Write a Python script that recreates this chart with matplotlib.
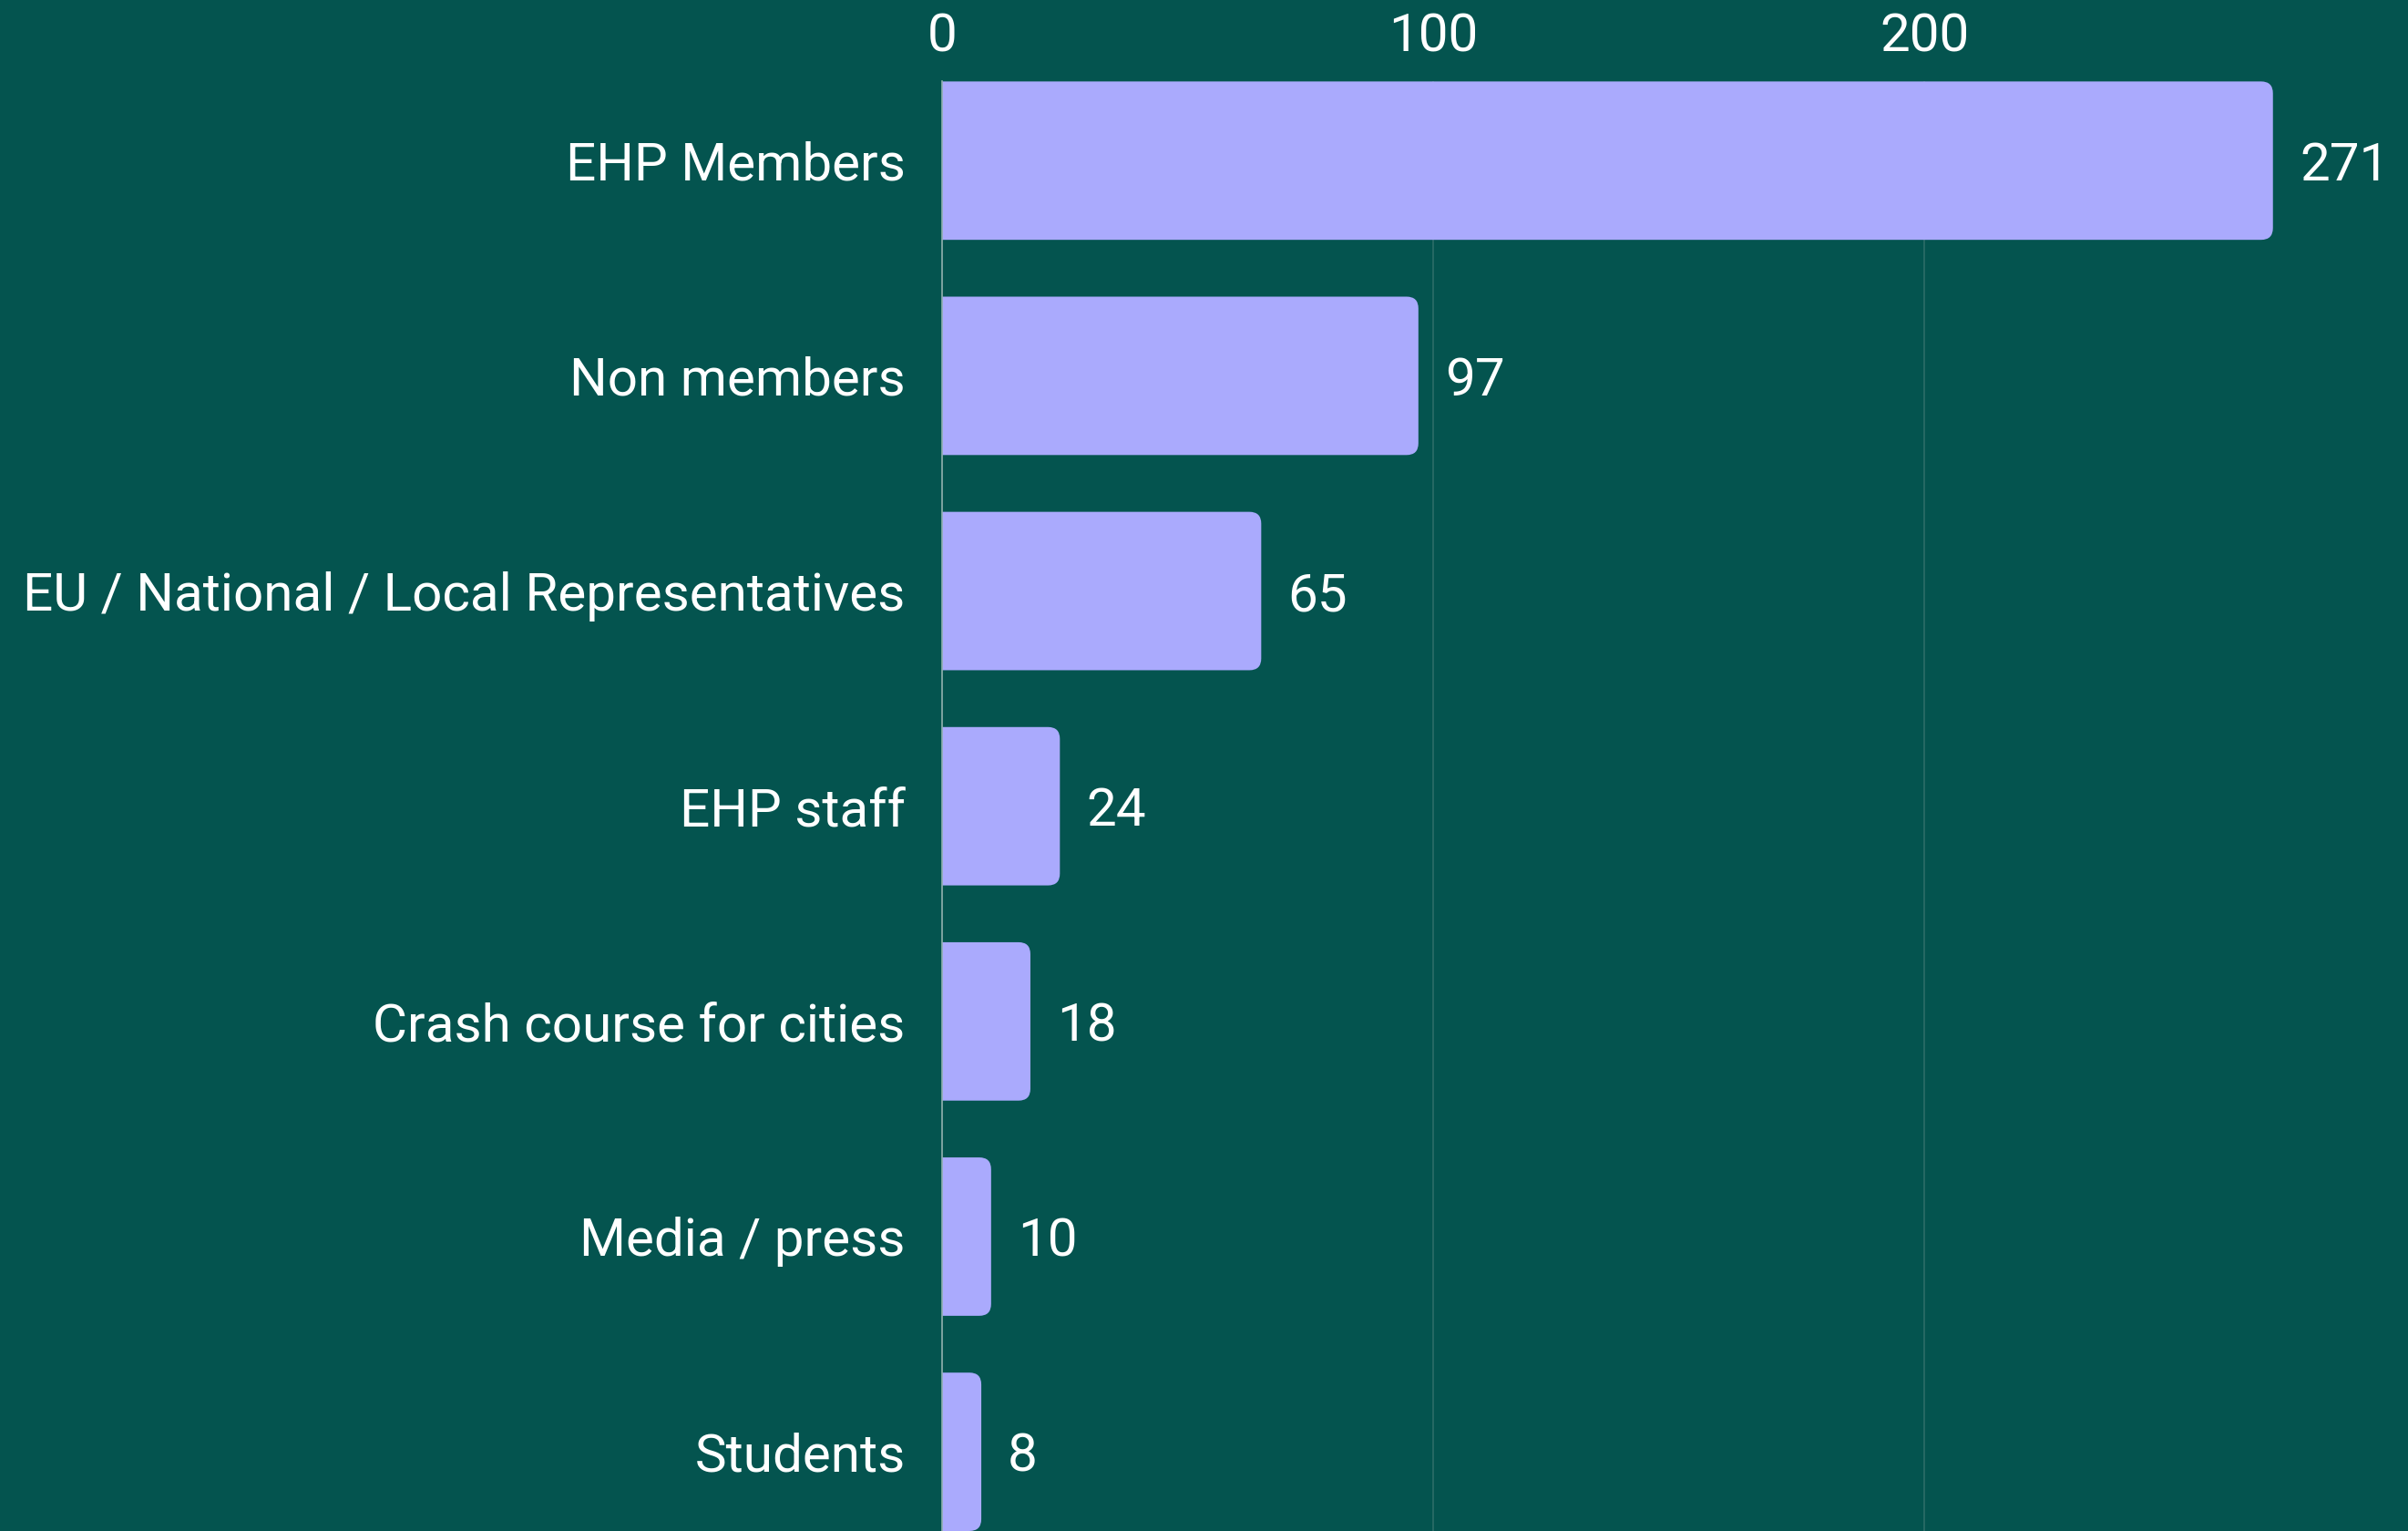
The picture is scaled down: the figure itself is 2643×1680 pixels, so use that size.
import matplotlib.pyplot as plt
from matplotlib.patches import FancyBboxPatch

# Datos
categorias = ['EHP Members', 'Non members', 'EU / National / Local Representatives',
              'EHP staff', 'Crash course for cities', 'Media / press', 'Students']
valores = [271, 97, 65, 24, 18, 10, 8]
ticks_x = [0, 100, 200]

fondo = '#04544f'
color_barra = '#aaaafd'
plt.rcParams['font.family'] = ['Roboto', 'DejaVu Sans']

fig = plt.figure(figsize=(26.43, 16.8), dpi=100, facecolor=fondo)
ax = fig.add_axes([0.3912, 0.0, 0.6088, 0.9468])
ax.set_facecolor(fondo)

pos = list(range(len(categorias)))
alto = 0.736
barras = ax.barh(pos, valores, height=alto, color=color_barra)

ax.set_xlim(0, 298.5)
ax.set_ylim(len(categorias) - 1 + alto / 2, -alto / 2)

# Esquinas redondeadas a la derecha
fig.canvas.draw()
px_x = ax.transData.transform((1, 0))[0] - ax.transData.transform((0, 0))[0]
px_y = abs(ax.transData.transform((0, 1))[1] - ax.transData.transform((0, 0))[1])
r = 13 / px_x
for b in barras:
    b.set_visible(False)
    x0, y0, w, h = b.get_x(), b.get_y(), b.get_width(), b.get_height()
    p = FancyBboxPatch((x0 - 3 * r, y0), w + 3 * r, h,
                       boxstyle=f'round,pad=0,rounding_size={r}',
                       mutation_aspect=px_x / px_y,
                       facecolor=color_barra, edgecolor='none', zorder=3)
    ax.add_patch(p)

# Etiquetas de valores
for y, v in zip(pos, valores):
    ax.annotate(str(v), (v, y), xytext=(21, 0), textcoords='offset points',
                va='center_baseline', ha='left', color='white', fontsize=42)

ax.set_yticks(pos)
ax.set_yticklabels(categorias, color='white', fontsize=42, va='center_baseline')
ax.tick_params(axis='y', length=0, pad=29)

ax.xaxis.tick_top()
ax.set_xticks(ticks_x)
ax.set_xticklabels([str(t) for t in ticks_x], color='white', fontsize=42)
ax.tick_params(axis='x', length=0, pad=15)

ax.grid(axis='x', color='#2c6d68', linewidth=1.2, zorder=0)
ax.set_axisbelow(True)
for s in ['top', 'right', 'bottom']:
    ax.spines[s].set_visible(False)
ax.spines['left'].set_color('#8fb0ad')
ax.spines['left'].set_linewidth(1.2)
ax.spines['left'].set_zorder(4)

plt.savefig('out.png', dpi=100, facecolor=fondo)
